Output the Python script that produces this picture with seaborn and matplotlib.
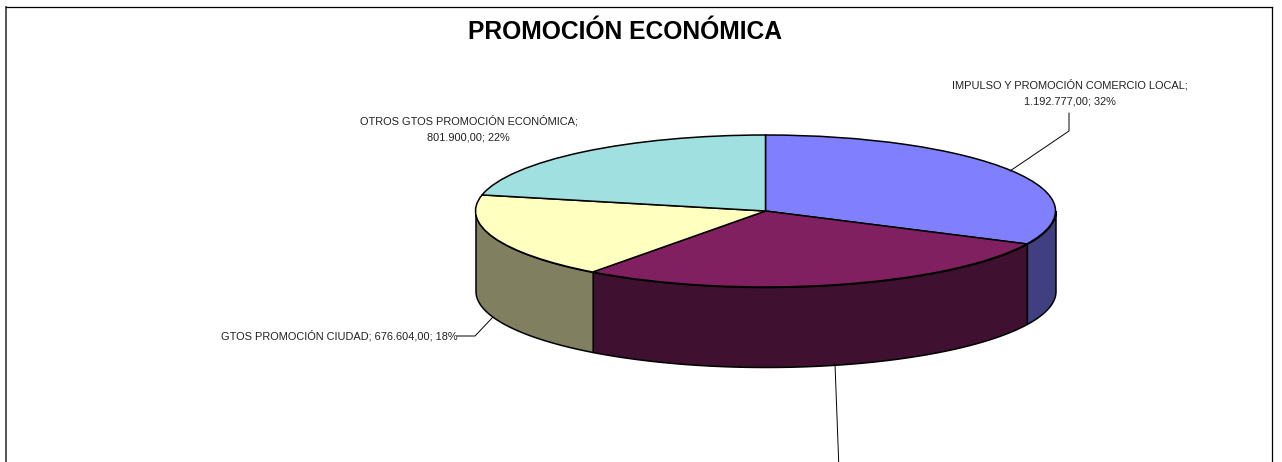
import numpy as np
import matplotlib
matplotlib.use("Agg")
import matplotlib.pyplot as plt
import seaborn as sns

# values, clockwise from 12 o'clock (second one is cut off in the source, estimated)
categories = [
    "IMPULSO Y PROMOCIÓN COMERCIO LOCAL",
    "PROMOCIÓN EMPRESARIAL",
    "GTOS PROMOCIÓN CIUDAD",
    "OTROS GTOS PROMOCIÓN ECONÓMICA",
]
values = [1192777.0, 1040000.0, 676604.0, 801900.0]
top_colors = ["#8080FF", "#802060", "#FFFFC0", "#A0E0E0"]
side_colors = ["#404080", "#401030", "#808060", "#507070"]

W, H = 1282, 462
CX, CY = 765.5, 211     # pie centre, pixels
RX, RY = 290, 76        # top ellipse radii, pixels
DEPTH = 80 / RY         # wall height in data units
LEFT, RIGHT, TOP = 6, 1272, 7

sns.set_theme(style="white")
plt.rcParams["font.family"] = ["Liberation Sans", "DejaVu Sans"]

fig = plt.figure(figsize=(W / 100, H / 100), dpi=100, facecolor="white")
ax = fig.add_axes([LEFT / W, 0, (RIGHT - LEFT) / W, (H - TOP) / H])


def to_data(px, py):
    return (px - CX) / RX, (CY - py) / RY


# side walls, only the front half of the rim is visible
edges = np.cumsum([0] + values) / sum(values) * 360
side_pal = sns.color_palette(side_colors)
for i in range(len(values)):
    a, b = max(edges[i], 90), min(edges[i + 1], 270)
    if a >= b:
        continue
    theta = np.radians(np.linspace(a, b, 120))
    x, y = np.sin(theta), np.cos(theta)
    ax.fill_between(x, y, y - DEPTH, facecolor=side_pal[i],
                    edgecolor="black", linewidth=1.1, zorder=1)

# top face
ax.pie(values, colors=sns.color_palette(top_colors), startangle=90,
       counterclock=False, radius=1,
       wedgeprops={"edgecolor": "black", "linewidth": 1.1, "zorder": 2})

ax.set_aspect("auto")
ax.set_frame_on(True)
ax.set_xlim(to_data(LEFT, 0)[0], to_data(RIGHT, 0)[0])
ax.set_ylim(to_data(0, H)[1], to_data(0, TOP)[1])
sns.despine(ax=ax, top=False, right=False, left=False, bottom=True)
for side in ["top", "right"]:
    ax.spines[side].set_color("black")
    ax.spines[side].set_linewidth(0.9)
ax.spines["left"].set_color("#555555")
ax.spines["left"].set_linewidth(1.4)

# leader lines
leaders = [
    [(1010, 171), (1069, 131), (1069, 113)],
    [(493, 317), (475, 336), (457, 336)],
    [(835, 364), (839, 470)],
]
for pts in leaders:
    xy = np.array([to_data(*p) for p in pts])
    ax.plot(xy[:, 0], xy[:, 1], color="black", linewidth=0.7, zorder=3)

# labels
label_style = dict(fontsize=7.9, color="#222222", ha="center", va="center",
                   linespacing=1.76, zorder=4)
ax.text(*to_data(1069.5, 93), "IMPULSO Y PROMOCIÓN COMERCIO LOCAL;\n1.192.777,00; 32%",
        **label_style)
ax.text(*to_data(468.5, 129), "OTROS GTOS PROMOCIÓN ECONÓMICA;\n801.900,00; 22%",
        **label_style)
ax.text(*to_data(339.5, 336), "GTOS PROMOCIÓN CIUDAD; 676.604,00; 18%", **label_style)

ax.text(*to_data(625, 32.5), "PROMOCIÓN ECONÓMICA", fontsize=17.7, fontweight="bold",
        color="black", ha="center", va="center")

fig.savefig("out.png", dpi=100)
